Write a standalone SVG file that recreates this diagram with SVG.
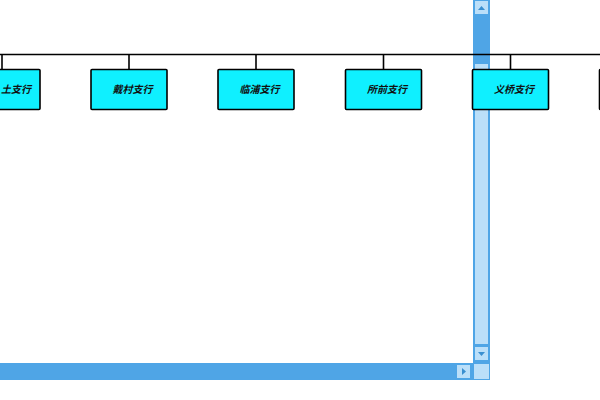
<svg xmlns="http://www.w3.org/2000/svg" width="600" height="400" viewBox="0 0 600 400">
<style>
.node rect{fill:#0FF0FF;stroke:#000;stroke-width:1.6}
.node text{font-family:"Noto Sans CJK SC","Liberation Sans",sans-serif;font-size:10px;font-style:italic;font-weight:bold;fill:#111;text-anchor:middle}
.conn line{stroke:#000;stroke-width:1.6}
.sb-dark{fill:#4FA5E6}
.sb-light{fill:#BBDFF9}
.arrow{fill:#3A8FD0}
</style>
<rect width="600" height="400" fill="#fff"/>
<g id="scrollbars">
<rect class="sb-dark" x="473" y="0" width="17" height="363"/>
<rect class="sb-light" x="475" y="1" width="13" height="13"/>
<path class="arrow" d="M478 10 L481.5 6 L485 10 Z"/>
<rect class="sb-light" x="475" y="64" width="13" height="280"/>
<rect class="sb-light" x="475" y="347" width="13" height="13"/>
<path class="arrow" d="M478 352 L485 352 L481.5 356 Z"/>
<rect class="sb-dark" x="0" y="363" width="473" height="17"/>
<rect class="sb-light" x="457" y="365" width="13" height="13"/>
<path class="arrow" d="M462 368 L466 371.5 L462 375 Z"/>
<rect class="sb-dark" x="473" y="363" width="17" height="17"/>
<rect class="sb-light" x="474" y="364" width="15" height="15"/>
</g>
<g class="conn">
<line x1="0" y1="54.5" x2="600" y2="54.5"/>
<line x1="2" y1="54.5" x2="2" y2="69"/>
<line x1="129" y1="54.5" x2="129" y2="69"/>
<line x1="256" y1="54.5" x2="256" y2="69"/>
<line x1="383.5" y1="54.5" x2="383.5" y2="69"/>
<line x1="510.5" y1="54.5" x2="510.5" y2="69"/>
</g>
<g id="node1" class="node"><rect x="-36" y="69.5" width="76" height="40" rx="1"/><text x="16" y="93">土支行</text></g>
<g id="node2" class="node"><rect x="91" y="69.5" width="76" height="40" rx="1"/><text x="132.5" y="93">戴村支行</text></g>
<g id="node3" class="node"><rect x="218" y="69.5" width="76" height="40" rx="1"/><text x="259.5" y="93">临浦支行</text></g>
<g id="node4" class="node"><rect x="345.5" y="69.5" width="76" height="40" rx="1"/><text x="387" y="93">所前支行</text></g>
<g id="node5" class="node"><rect x="472.5" y="69.5" width="76" height="40" rx="1"/><text x="514" y="93">义桥支行</text></g>
<g id="node6" class="node"><rect x="599.5" y="69.5" width="76" height="40" rx="1"/></g>
</svg>
